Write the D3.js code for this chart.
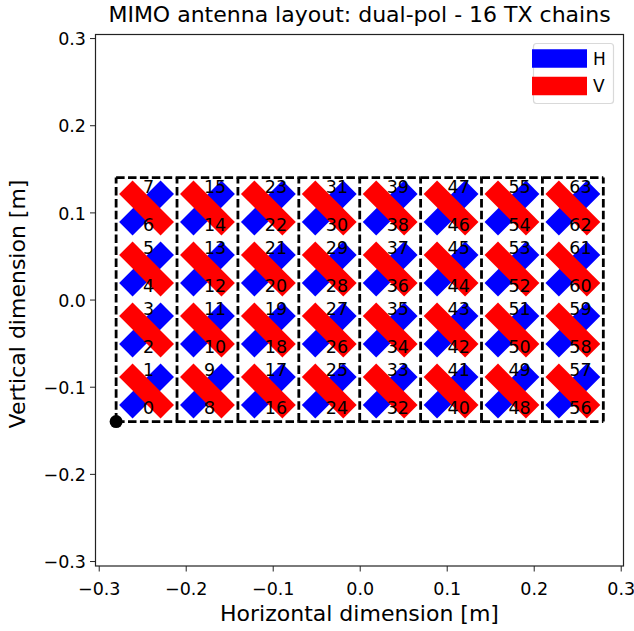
<!DOCTYPE html>
<html>
<head>
<meta charset="utf-8">
<title>MIMO antenna layout</title>
<script src="https://cdn.jsdelivr.net/npm/d3@7"></script>
<style>
	html, body { margin: 0; padding: 0; background: #fff; }
	svg { display: block; }
	text { font-family: "DejaVu Sans", sans-serif; fill: #000; }
	.axis text { font-size: 17.5px; }
	.axis path, .axis line { stroke: #222; }
</style>
</head>
<body>
<svg id="chart" width="634" height="631"></svg>
<script>
// element centres in metres
var columnCentres = [-0.245, -0.175, -0.105, -0.035, 0.035, 0.105, 0.175, 0.245];
var rowCentres = [-0.105, -0.035, 0.035, 0.105];
// subarray (TX chain group) edges
var subarrayEdgesX = [-0.28, -0.21, -0.14, -0.07, 0, 0.07, 0.14, 0.21, 0.28];
var subarrayEdgesY = [-0.14, 0.14];
var originPoint = [-0.28, -0.14];
var xTicks = [-0.3, -0.2, -0.1, 0, 0.1, 0.2, 0.3];
var yTicks = [-0.3, -0.2, -0.1, 0, 0.1, 0.2, 0.3];
var polarisations = ["H", "V"];
var polColours = ["#0000ff", "#ff0000"];
var armLength = 0.0238;
var labelOffset = 0.0218;

var svg = d3.select("#chart");

var x = d3.scaleLinear().domain([-0.3037, 0.3032]).range([95.5, 623.5]);
var y = d3.scaleLinear().domain([-0.3057, 0.3041]).range([566, 34.5]);

function fmt(d) {
	return d3.format(".1f")(d).replace("-", "\u2212");
}

// antenna elements, red drawn over blue in each position
var elements = [];
columnCentres.forEach(function (cx, c) {
	rowCentres.forEach(function (cy, r) {
		elements.push({ cx: cx, cy: cy, low: c * 8 + r * 2 });
	});
});

var bars = svg.append("g");
elements.forEach(function (d) {
	// H goes lower left to upper right, V upper left to lower right
	bars.append("line")
		.attr("x1", x(d.cx - armLength)).attr("y1", y(d.cy - armLength))
		.attr("x2", x(d.cx + armLength)).attr("y2", y(d.cy + armLength))
		.attr("stroke", polColours[0]).attr("stroke-width", 19);
	bars.append("line")
		.attr("x1", x(d.cx - armLength)).attr("y1", y(d.cy + armLength))
		.attr("x2", x(d.cx + armLength)).attr("y2", y(d.cy - armLength))
		.attr("stroke", polColours[1]).attr("stroke-width", 19);
});

// dashed subarray boxes: verticals run bottom to top, horizontals left to right,
// so neighbouring boxes stay in phase
var boxes = svg.append("g")
	.attr("fill", "none")
	.attr("stroke", "#000")
	.attr("stroke-width", 2.8)
	.attr("stroke-dasharray", "8.5,3.4");

subarrayEdgesX.forEach(function (ex) {
	boxes.append("line")
		.attr("x1", x(ex)).attr("x2", x(ex))
		.attr("y1", y(subarrayEdgesY[0])).attr("y2", y(subarrayEdgesY[1]));
});
d3.pairs(subarrayEdgesX).forEach(function (d) {
	subarrayEdgesY.forEach(function (ey) {
		boxes.append("line")
			.attr("x1", x(d[0])).attr("x2", x(d[1]))
			.attr("y1", y(ey)).attr("y2", y(ey));
	});
});

// element numbers
var labels = svg.append("g").style("font-size", "17.5px");
elements.forEach(function (d) {
	[0, 1].forEach(function (k) {
		labels.append("text")
			.attr("x", x(d.cx) - 3.5)
			.attr("y", y(d.cy + (k ? labelOffset : -labelOffset)) - 2)
			.attr("dy", "0.36em")
			.text(d.low + k);
	});
});

svg.append("circle")
	.attr("cx", x(originPoint[0]))
	.attr("cy", y(originPoint[1]))
	.attr("r", 6.5)
	.attr("fill", "#000");

// frame + axes
svg.append("rect")
	.attr("x", 95.5).attr("y", 34.5)
	.attr("width", 528).attr("height", 531.5)
	.attr("fill", "none").attr("stroke", "#222").attr("stroke-width", 1.2);

svg.append("g")
	.attr("class", "axis")
	.attr("transform", "translate(0,566)")
	.call(d3.axisBottom(x).tickValues(xTicks).tickFormat(fmt).tickSize(5.5).tickPadding(8))
	.call(function (g) { g.select(".domain").remove(); })
	.selectAll("text").attr("dy", "0.9em");

svg.append("g")
	.attr("class", "axis")
	.attr("transform", "translate(95.5,0)")
	.call(d3.axisLeft(y).tickValues(yTicks).tickFormat(fmt).tickSize(5.5).tickPadding(4))
	.call(function (g) { g.select(".domain").remove(); })
	.selectAll("text").attr("dy", "0.38em");

svg.append("text")
	.attr("x", 359.5).attr("y", 22)
	.attr("text-anchor", "middle")
	.style("font-size", "22px")
	.text("MIMO antenna layout: dual-pol - 16 TX chains");

svg.append("text")
	.attr("x", 359.5).attr("y", 620.5)
	.attr("text-anchor", "middle")
	.style("font-size", "22px")
	.text("Horizontal dimension [m]");

svg.append("text")
	.attr("transform", "translate(25,304) rotate(-90)")
	.attr("text-anchor", "middle")
	.style("font-size", "22px")
	.text("Vertical dimension [m]");

// legend
var legend = svg.append("g");
legend.append("rect")
	.attr("x", 533.5).attr("y", 43.5)
	.attr("width", 80).attr("height", 60).attr("rx", 3)
	.attr("fill", "#fff").attr("fill-opacity", 0.8)
	.attr("stroke", "#d9d9d9").attr("stroke-width", 1.2);

polarisations.forEach(function (p, i) {
	var ly = 58.5 + i * 27.5;
	legend.append("line")
		.attr("x1", 532).attr("x2", 587)
		.attr("y1", ly).attr("y2", ly)
		.attr("stroke", polColours[i]).attr("stroke-width", 18.5);
	legend.append("text")
		.attr("x", 593).attr("y", ly)
		.attr("dy", "0.36em")
		.style("font-size", "17px")
		.text(p);
});
</script>
</body>
</html>
